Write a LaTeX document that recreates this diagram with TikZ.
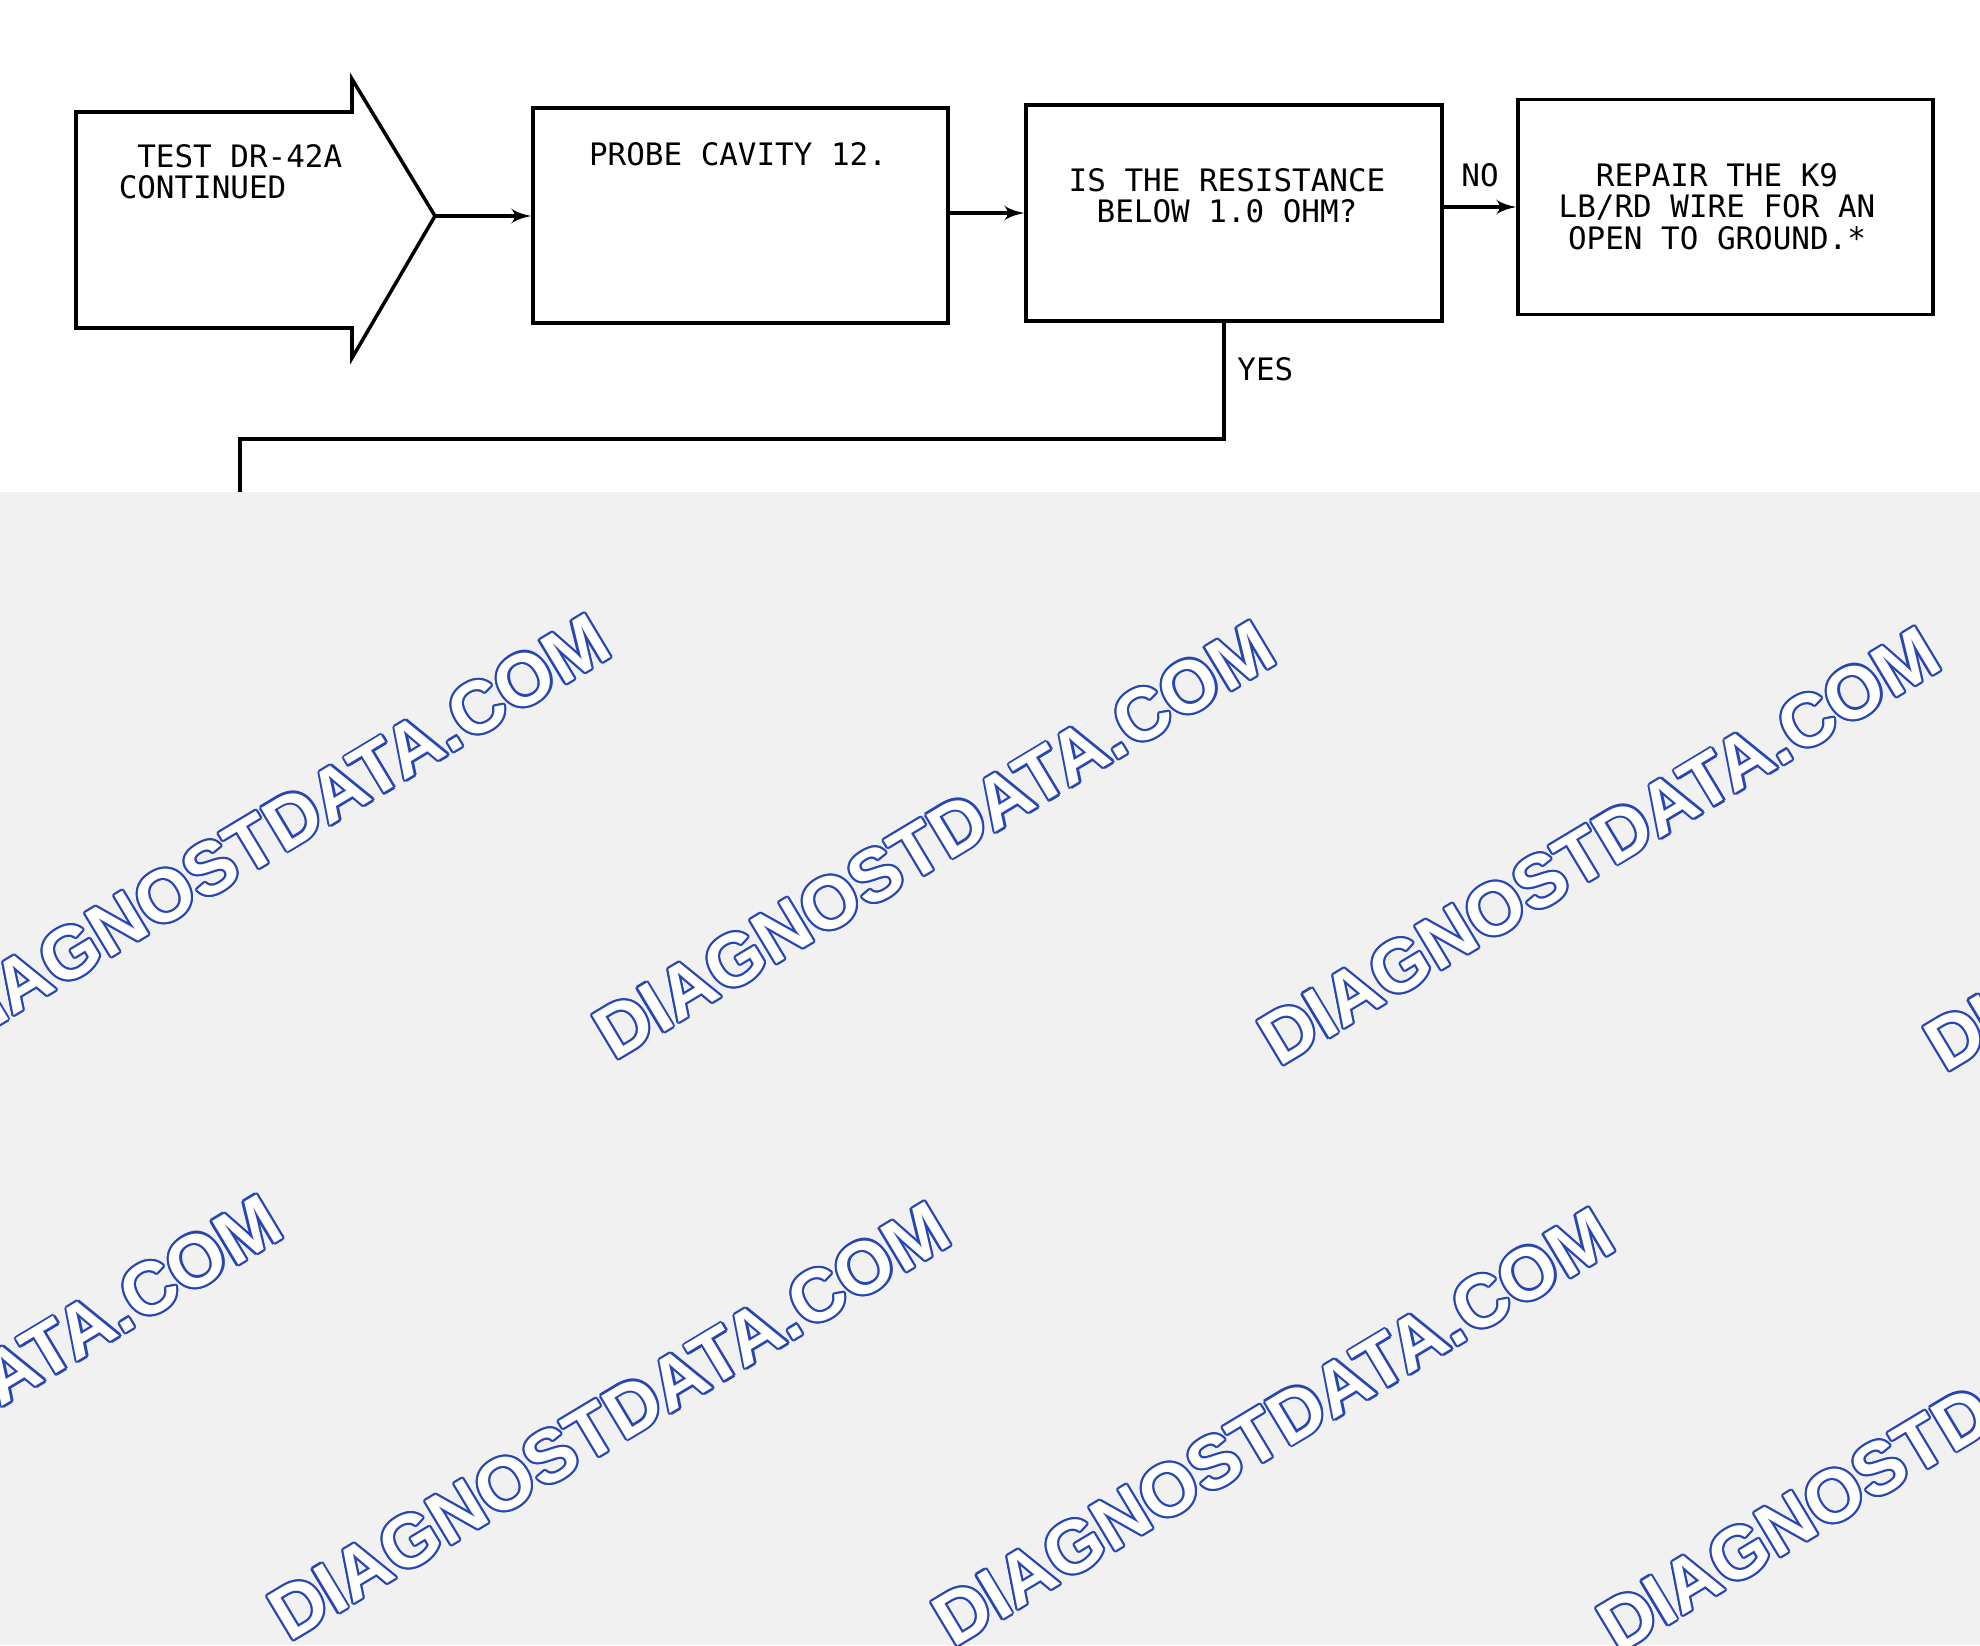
\documentclass[tikz,border=0pt]{standalone}
\usepackage{fontspec}
\setmonofont{DejaVu Sans Mono}
\newfontfamily\wmfont{Liberation Sans}
\usepackage{tikz}
\usetikzlibrary{arrows,positioning}
\definecolor{wmblue}{RGB}{38,70,178}
\definecolor{bggray}{RGB}{241,241,241}
\tikzset{
	box/.style={draw,line width=1pt,inner sep=0pt},
	txt/.style={font=\ttfamily\fontsize{8.8}{8.9}\selectfont,inner sep=0pt,align=center,anchor=north},
	lbl/.style={font=\ttfamily\fontsize{8.8}{8.9}\selectfont},
	wm/.style={font=\wmfont\bfseries\fontsize{21}{21}\selectfont,rotate=31,inner sep=0pt}
}
\begin{document}
\begin{tikzpicture}[>=latex',line width=1pt]
		\useasboundingbox (0,0) rectangle (19.8,-16.45);
		\draw (0.76,-1.12) -- (3.52,-1.12) -- (3.52,-0.79) -- (4.35,-2.16) -- (3.52,-3.58) -- (3.52,-3.28) -- (0.76,-3.28) -- cycle;
		\coordinate (contTip) at (4.35,-2.16);
		\node[txt,align=left,anchor=north west] (cont) at (1.17,-1.43) {\phantom{C}TEST DR-42A\\CONTINUED};

		\node[box,minimum width=4.15cm,minimum height=2.15cm] (probe) at (7.405,-2.155) {};
		\node[txt] (probetxt) at (7.38,-1.41) {PROBE CAVITY 12.};
		\node[box,minimum width=4.16cm,minimum height=2.16cm] (decide) at (12.34,-2.13) {};
		\node[txt] (decidetxt) at (12.27,-1.67) {IS THE RESISTANCE\\BELOW 1.0 OHM?};
		\node[box,minimum width=4.15cm,minimum height=2.15cm] (repair) at (17.255,-2.07) {};
		\node[txt] (repairtxt) at (17.17,-1.62) {REPAIR THE K9\\LB/RD WIRE FOR AN\\OPEN TO GROUND.*};

		\draw[->] (contTip) -- (probe.west |- contTip);
		\draw[->] (probe.east |- decide.west) -- (decide.west);
		\draw[->] (decide.east |- repair.west) -- node[lbl,above=2pt] (no) {NO} (repair.west);
		\coordinate (loopEnd) at (2.40,-4.96);
		\draw ([xshift=-1mm]decide.south) -- node[lbl,right,pos=.4] (yes) {YES} ++(0,-1.16) -| (loopEnd);

		\fill[bggray] (0,-4.92) rectangle (19.8,-16.45);
		\begin{scope}
			\clip (0,-4.92) rectangle (19.8,-16.45);
			\foreach \x/\y [count=\i] in {2.69/-8.33,9.34/-8.40,15.99/-8.46,22.65/-8.52,-0.59/-14.14,6.09/-14.21,12.73/-14.27,19.38/-14.33}{
				\foreach \a in {0,30,...,330}
					\node[wm,text=wmblue] (wm\i-\a) at ([shift={(\a:0.022)}]\x,\y) {DIAGNOSTDATA.COM};
				\node[wm,text=white] (wm\i) at (\x,\y) {DIAGNOSTDATA.COM};
			}
		\end{scope}
	\end{tikzpicture}
\end{document}
